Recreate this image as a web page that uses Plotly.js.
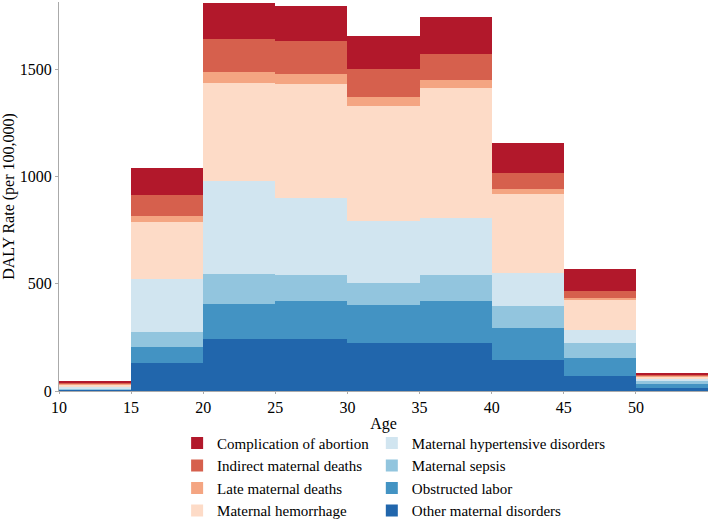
<!DOCTYPE html>
<html>
<head>
<meta charset="utf-8">
<script src="https://cdn.plot.ly/plotly-3.0.1.min.js"></script>
<style>html,body{margin:0;padding:0;background:#fff;}</style>
</head>
<body>
<div id="chart" style="width:710px;height:519px;"></div>
<script>
// Age group left edges (each group spans 5 years)
const ageStart = [10, 15, 20, 25, 30, 35, 40, 45, 50];
const tickLabels = ["10", "15", "20", "25", "30", "35", "40", "45", "50"];

// DALY rate per 100,000 by cause
const otherMaternal   = [3, 129, 241, 244, 224, 225, 145, 70, 12];
const obstructedLabor = [4, 75, 165, 174, 176, 193, 149, 86, 22];
const maternalSepsis  = [2, 71, 141, 122, 105, 123, 103, 68, 13];
const hypertensive    = [8, 248, 431, 362, 288, 266, 152, 59, 7];
const hemorrhage      = [12, 267, 459, 530, 538, 607, 372, 140, 11];
const lateDeaths      = [4, 28, 51, 47, 39, 39, 21, 12, 5];
const indirectDeaths  = [5, 96, 154, 152, 134, 121, 75, 33, 5];
const abortion        = [9, 126, 170, 164, 152, 171, 139, 101, 11];

const series = [
  {name: "Other maternal disorders", y: otherMaternal, color: "#2166ac", legend: "legend2", rank: 4},
  {name: "Obstructed labor", y: obstructedLabor, color: "#4393c3", legend: "legend2", rank: 3},
  {name: "Maternal sepsis", y: maternalSepsis, color: "#92c5de", legend: "legend2", rank: 2},
  {name: "Maternal hypertensive disorders", y: hypertensive, color: "#d1e5f0", legend: "legend2", rank: 1},
  {name: "Maternal hemorrhage", y: hemorrhage, color: "#fddbc7", legend: "legend", rank: 4},
  {name: "Late maternal deaths", y: lateDeaths, color: "#f4a582", legend: "legend", rank: 3},
  {name: "Indirect maternal deaths", y: indirectDeaths, color: "#d6604d", legend: "legend", rank: 2},
  {name: "Complication of abortion", y: abortion, color: "#b2182b", legend: "legend", rank: 1}
];

const traces = series.map(s => ({
  type: "bar",
  name: s.name,
  x: ageStart,
  y: s.y,
  width: 5,
  offset: 0,
  legend: s.legend,
  legendrank: s.rank,
  marker: {color: s.color, line: {width: 0}},
  hoverinfo: "name+y"
}));

const font = "Liberation Serif, Times New Roman, serif";

const legendBase = {
  orientation: "v",
  traceorder: "normal",
  yanchor: "top",
  y: -0.092,
  xanchor: "left",
  itemwidth: 30,
  tracegroupgap: 0,
  font: {family: font, size: 15},
  bgcolor: "rgba(0,0,0,0)"
};

const layout = {
  width: 710,
  height: 519,
  barmode: "stack",
  bargap: 0,
  paper_bgcolor: "#ffffff",
  plot_bgcolor: "#ffffff",
  font: {family: font, size: 16, color: "#000"},
  margin: {l: 59, r: 2, t: 2, b: 128, autoexpand: false},
  xaxis: {
    range: [10, 55],
    tickvals: ageStart,
    ticktext: tickLabels,
    showgrid: false,
    zeroline: false,
    showline: true,
    linecolor: "#aaaaaa",
    linewidth: 1,
    ticks: "outside",
    ticklen: 2,
    tickcolor: "#aaaaaa",
    tickfont: {family: font, size: 16},
    automargin: false,
    title: {text: "Age", font: {family: font, size: 16}, standoff: 2}
  },
  yaxis: {
    range: [0, 1815],
    tickvals: [0, 500, 1000, 1500],
    showgrid: false,
    zeroline: false,
    showline: true,
    linecolor: "#aaaaaa",
    linewidth: 1,
    ticks: "outside",
    ticklen: 3,
    tickcolor: "#aaaaaa",
    tickfont: {family: font, size: 16},
    automargin: true,
    title: {text: "DALY Rate (per 100,000)", font: {family: font, size: 16}, standoff: 4}
  },
  showlegend: true,
  legend: Object.assign({}, legendBase, {x: 0.182}),
  legend2: Object.assign({}, legendBase, {x: 0.482})
};

Plotly.newPlot("chart", traces, layout, {displayModeBar: false, staticPlot: true});
</script>
</body>
</html>
